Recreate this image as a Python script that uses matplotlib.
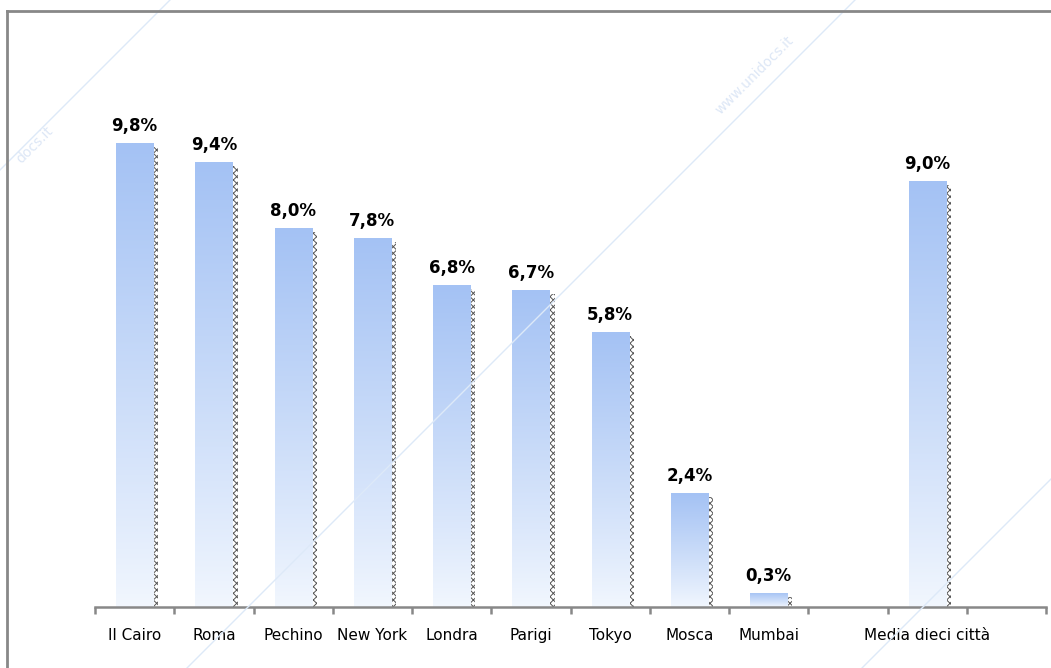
import numpy as np
import matplotlib.pyplot as plt
from matplotlib.patches import Rectangle
from matplotlib.lines import Line2D

plt.rcParams['hatch.color'] = '#555555'
plt.rcParams['hatch.linewidth'] = 0.7

# categories (blank slots keep the gap before / after the average)
categories = ['Il Cairo', 'Roma', 'Pechino', 'New York', 'Londra', 'Parigi',
              'Tokyo', 'Mosca', 'Mumbai', '', 'Media dieci città', '']
values = [9.8, 9.4, 8.0, 7.8, 6.8, 6.7, 5.8, 2.4, 0.3, None, 9.0, None]
value_labels = ['9,8%', '9,4%', '8,0%', '7,8%', '6,8%', '6,7%', '5,8%',
                '2,4%', '0,3%', '', '9,0%', '']

W, H = 1051, 668
fig = plt.figure(figsize=(W / 100, H / 100), dpi=100)
ax = fig.add_axes([95 / W, 61 / H, (1046 - 95) / W, (568) / H])
ax.set_xlim(0, len(categories))
ax.set_ylim(0, 12)

# vertical gradient: light blue on top, almost white at the bottom
grad = np.linspace(0, 1, 256).reshape(-1, 1)
top_c = np.array([164, 194, 244]) / 255
bot_c = np.array([242, 247, 254]) / 255
img = bot_c + (top_c - bot_c) * grad[..., None] ** 0.9
img = img.reshape(256, 1, 3)

bar_w = 0.47
shadow_w = 0.065
centers = np.arange(len(categories)) + 0.5
for xc, v, lab in zip(centers, values, value_labels):
    if v is None:
        continue
    x0 = xc - bar_w / 2
    bar = ax.bar(xc, v, width=bar_w, color='none', edgecolor='none', zorder=2)[0]
    im = ax.imshow(img, extent=[x0, x0 + bar_w, 0, v], origin='lower',
                   aspect='auto', zorder=2)
    im.set_clip_path(bar)
    # dotted shadow on the right side
    sh_top = max(v - 0.08, 0.05)
    ax.add_patch(Rectangle((x0 + bar_w, 0), shadow_w, sh_top, facecolor='white',
                           edgecolor='#555555', hatch='xxxxx', zorder=1.5,
                           linewidth=0))
    ax.text(xc, v + 0.17, lab, ha='center', va='bottom', fontsize=12,
            fontweight='bold', color='black')

ax.set_xticks(np.arange(len(categories) + 1))
ax.set_xticklabels([])
ax.set_xticks(centers, minor=True)
ax.set_xticklabels(categories, minor=True, fontsize=11)
ax.tick_params(axis='x', which='major', length=5, width=1.8, color='#888888',
               direction='out')
ax.tick_params(axis='x', which='minor', length=0, pad=15)
ax.set_yticks([])
for s in ['top', 'right', 'left']:
    ax.spines[s].set_visible(False)
ax.spines['bottom'].set_color('#888888')
ax.spines['bottom'].set_linewidth(1.8)
ax.set_xlim(0, len(categories))

# outer frame (top and left edges visible)
fig.add_artist(Line2D([7 / W, 1], [1 - 11 / H, 1 - 11 / H], color='#888888',
                      linewidth=2))
fig.add_artist(Line2D([7 / W, 7 / W], [0, 1 - 11 / H], color='#888888',
                      linewidth=2))

# faint watermark
for c in [170, 855, 1530]:
    xs = np.array([max(0, c - H), min(W, c)])
    ys = c - xs
    fig.add_artist(Line2D(xs / W, 1 - ys / H, color='#dde9f8', linewidth=1,
                          zorder=0.5))
fig.text(755 / W, 1 - 75 / H, 'www.unidocs.it', rotation=45, fontsize=10,
         color='#dde7f6', ha='center', va='center')
fig.text(35 / W, 1 - 145 / H, 'docs.it', rotation=45, fontsize=10,
         color='#dde7f6', ha='center', va='center')

fig.savefig('out.png', dpi=100)
